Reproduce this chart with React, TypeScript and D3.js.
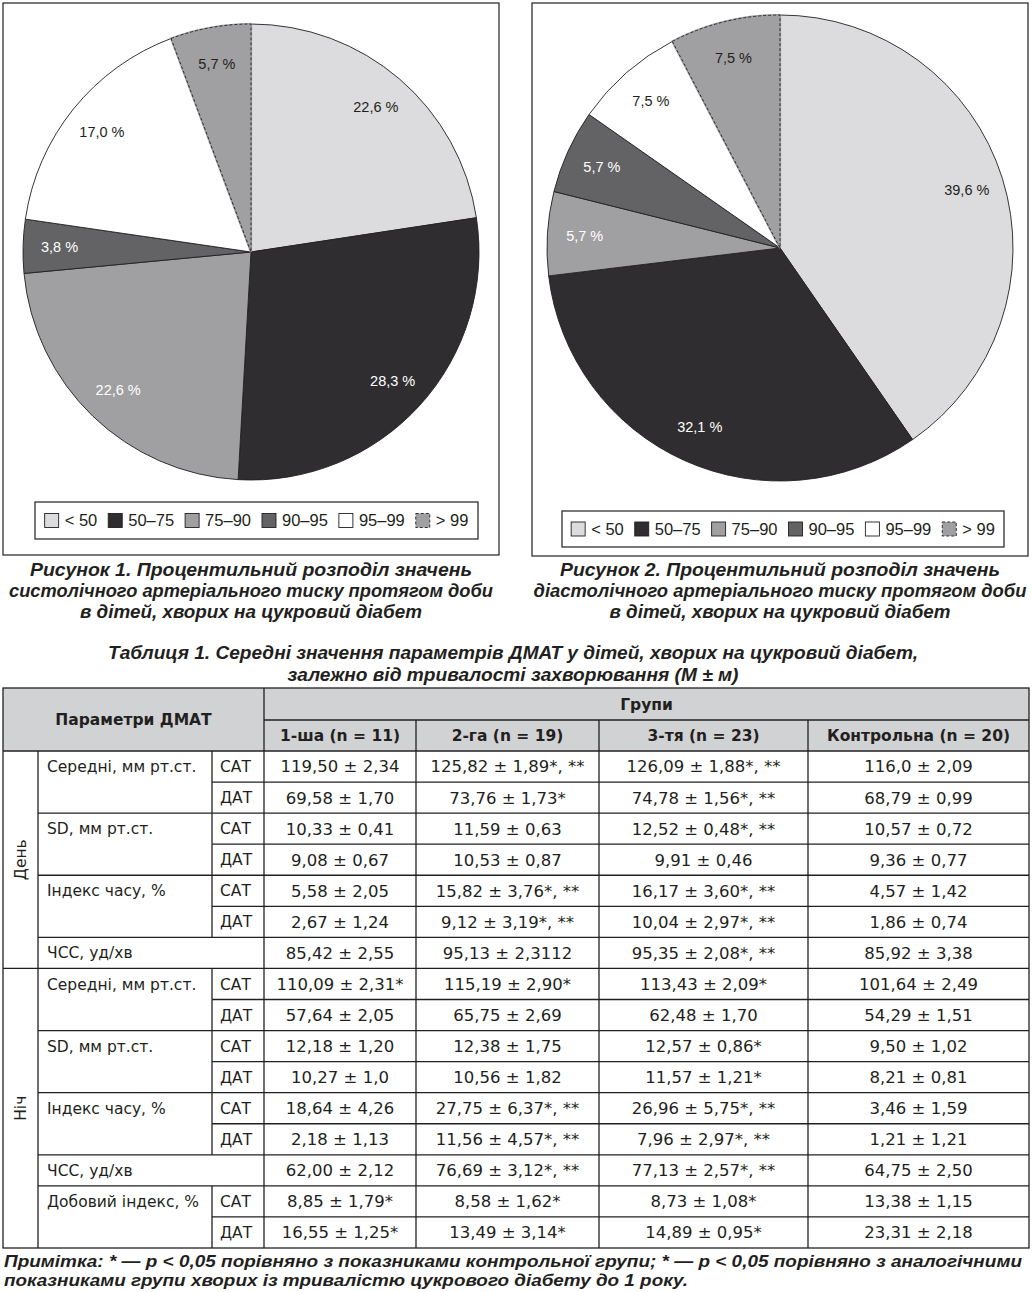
import React, { useMemo } from 'react';
import * as d3 from 'd3';

// ---------- DATA ----------
const categories = ['< 50', '50–75', '75–90', '90–95', '95–99', '> 99'];
const systolicValues = [22.6, 28.3, 22.6, 3.8, 17.0, 5.7];
const diastolicValues = [39.6, 32.1, 5.7, 5.7, 7.5, 7.5];

const caption1 = [
  'Рисунок 1. Процентильний розподіл значень',
  'систолічного артеріального тиску протягом доби',
  'в дітей, хворих на цукровий діабет',
];
const caption2 = [
  'Рисунок 2. Процентильний розподіл значень',
  'діастолічного артеріального тиску протягом доби',
  'в дітей, хворих на цукровий діабет',
];
const tableTitle = [
  'Таблиця 1. Середні значення параметрів ДМАТ у дітей, хворих на цукровий діабет,',
  'залежно від тривалості захворювання (М ± м)',
];
const noteLines = [
  'Примітка: * — p < 0,05 порівняно з показниками контрольної групи; * — p < 0,05 порівняно з аналогічними',
  'показниками групи хворих із тривалістю цукрового діабету до 1 року.',
];

const paramHeader = 'Параметри ДМАТ';
const groupsHeader = 'Групи';
const groupNames = ['1-ша (n = 11)', '2-га (n = 19)', '3-тя (n = 23)', 'Контрольна (n = 20)'];

const rowPeriod = ['День', 'День', 'День', 'День', 'День', 'День', 'День',
  'Ніч', 'Ніч', 'Ніч', 'Ніч', 'Ніч', 'Ніч', 'Ніч', 'Ніч', 'Ніч'];
const rowParam = ['Середні, мм рт.ст.', 'Середні, мм рт.ст.', 'SD, мм рт.ст.', 'SD, мм рт.ст.',
  'Індекс часу, %', 'Індекс часу, %', 'ЧСС, уд/хв',
  'Середні, мм рт.ст.', 'Середні, мм рт.ст.', 'SD, мм рт.ст.', 'SD, мм рт.ст.',
  'Індекс часу, %', 'Індекс часу, %', 'ЧСС, уд/хв', 'Добовий індекс, %', 'Добовий індекс, %'];
const rowBp = ['САТ', 'ДАТ', 'САТ', 'ДАТ', 'САТ', 'ДАТ', '',
  'САТ', 'ДАТ', 'САТ', 'ДАТ', 'САТ', 'ДАТ', '', 'САТ', 'ДАТ'];

const group1Values = ['119,50 ± 2,34', '69,58 ± 1,70', '10,33 ± 0,41', '9,08 ± 0,67', '5,58 ± 2,05',
  '2,67 ± 1,24', '85,42 ± 2,55', '110,09 ± 2,31*', '57,64 ± 2,05', '12,18 ± 1,20', '10,27 ± 1,0',
  '18,64 ± 4,26', '2,18 ± 1,13', '62,00 ± 2,12', '8,85 ± 1,79*', '16,55 ± 1,25*'];
const group2Values = ['125,82 ± 1,89*, **', '73,76 ± 1,73*', '11,59 ± 0,63', '10,53 ± 0,87',
  '15,82 ± 3,76*, **', '9,12 ± 3,19*, **', '95,13 ± 2,3112', '115,19 ± 2,90*', '65,75 ± 2,69',
  '12,38 ± 1,75', '10,56 ± 1,82', '27,75 ± 6,37*, **', '11,56 ± 4,57*, **', '76,69 ± 3,12*, **',
  '8,58 ± 1,62*', '13,49 ± 3,14*'];
const group3Values = ['126,09 ± 1,88*, **', '74,78 ± 1,56*, **', '12,52 ± 0,48*, **', '9,91 ± 0,46',
  '16,17 ± 3,60*, **', '10,04 ± 2,97*, **', '95,35 ± 2,08*, **', '113,43 ± 2,09*', '62,48 ± 1,70',
  '12,57 ± 0,86*', '11,57 ± 1,21*', '26,96 ± 5,75*, **', '7,96 ± 2,97*, **', '77,13 ± 2,57*, **',
  '8,73 ± 1,08*', '14,89 ± 0,95*'];
const controlValues = ['116,0 ± 2,09', '68,79 ± 0,99', '10,57 ± 0,72', '9,36 ± 0,77', '4,57 ± 1,42',
  '1,86 ± 0,74', '85,92 ± 3,38', '101,64 ± 2,49', '54,29 ± 1,51', '9,50 ± 1,02', '8,21 ± 0,81',
  '3,46 ± 1,59', '1,21 ± 1,21', '64,75 ± 2,50', '13,38 ± 1,15', '23,31 ± 2,18'];

// ---------- STYLE ----------
const sliceFills = ['#dcdcde', '#302d31', '#a0a0a3', '#636365', '#ffffff', '#a0a0a3'];
const labelColors = ['#231f20', '#ffffff', '#ffffff', '#ffffff', '#231f20', '#231f20'];
const dashedIndex = 5;
const INK = '#231f20';
const HEADER_FILL = '#d1d2d4';
const TABLE_FONT = 'DejaVu Sans, sans-serif';
const CAPTION_FONT = 'Liberation Sans Narrow, Liberation Sans, Arial, sans-serif';

const measureCanvas = typeof document !== 'undefined' ? document.createElement('canvas') : null;
function textWidth(text: string, font: string) {
  if (!measureCanvas) return text.length * 8;
  const ctx = measureCanvas.getContext('2d')!;
  ctx.font = font;
  return ctx.measureText(text).width;
}

const fmtPct = (v: number) => v.toFixed(1).replace('.', ',') + ' %';

type PieProps = {
  values: number[];
  frame: { x: number; y: number; w: number; h: number };
  cx: number; cy: number; r: number;
  legend: { x: number; y: number; w: number; h: number };
};

function PiePanel({ values, frame, cx, cy, r, legend }: PieProps) {
  const arcs = useMemo(() => d3.pie<number>().sort(null).value(v => v)(values), [values]);
  const arc = d3.arc<d3.PieArcDatum<number>>().innerRadius(0).outerRadius(r);
  const labelArc = d3.arc<d3.PieArcDatum<number>>().innerRadius(r * 0.84).outerRadius(r * 0.84);

  const legendFont = '16.5px "Liberation Sans"';
  const sw = 14, swGap = 6, itemGap = 11;
  const widths = categories.map(c => textWidth(c, legendFont));
  const itemW = widths.map(w => sw + swGap + w);
  const total = d3.sum(itemW) + itemGap * (categories.length - 1);
  let cursor = legend.x + (legend.w - total) / 2;
  const itemX = itemW.map(w => { const x = cursor; cursor += w + itemGap; return x; });
  const ly = legend.y + legend.h / 2;

  return (
    <g>
      <rect x={frame.x} y={frame.y} width={frame.w} height={frame.h} fill="#fff" stroke={INK} strokeWidth={1.2} />
      <g transform={`translate(${cx},${cy})`}>
        {arcs.map((a, i) => i === dashedIndex ? null : (
          <path key={i} d={arc(a) || ''} fill={sliceFills[i]} stroke={INK} strokeWidth={0.9} />
        ))}
        {arcs.map((a, i) => i !== dashedIndex ? null : (
          <g key={i}>
            <path d={arc(a) || ''} fill={sliceFills[i]} stroke={sliceFills[i]} strokeWidth={2.2} />
            <path d={arc(a) || ''} fill="none" stroke={INK} strokeWidth={0.9} strokeDasharray="3,2" />
          </g>
        ))}
        {arcs.map((a, i) => {
          const [lx, lyy] = labelArc.centroid(a);
          return (
            <text key={'l' + i} x={lx} y={lyy} dy="0.35em" textAnchor="middle"
              fontFamily="Liberation Sans, Arial, sans-serif" fontSize={14.5} fill={labelColors[i]}>
              {fmtPct(values[i])}
            </text>
          );
        })}
      </g>
      <rect x={legend.x} y={legend.y} width={legend.w} height={legend.h} fill="#fff" stroke={INK} strokeWidth={1.2} />
      {categories.map((c, i) => (
        <g key={c}>
          <rect x={itemX[i]} y={ly - sw / 2} width={sw} height={sw} fill={sliceFills[i]}
            stroke={INK} strokeWidth={0.9} strokeDasharray={i === dashedIndex ? '3,2' : undefined} />
          <text x={itemX[i] + sw + swGap} y={ly} dy="0.36em" fontFamily="Liberation Sans, Arial, sans-serif"
            fontSize={16.5} fill={INK}>{c}</text>
        </g>
      ))}
    </g>
  );
}

function CaptionBlock({ lines, cx, ys, lens, size, family, anchor = 'middle' }:
  { lines: string[]; cx: number; ys: number[]; lens: number[]; size: number; family: string; anchor?: string }) {
  return (
    <g>
      {lines.map((t, i) => (
        <text key={i} x={cx} y={ys[i]} textAnchor={anchor as any} fontFamily={family} fontSize={size}
          fontWeight="bold" fontStyle="italic" fill={INK} textLength={lens[i]} lengthAdjust="spacingAndGlyphs">
          {t}
        </text>
      ))}
    </g>
  );
}

function DataTable() {
  const colX = [3, 38, 212, 264, 416, 599, 808, 1029];
  const top = 688, h1 = 720, h2 = 751, bottom = 1248;
  const n = rowParam.length;
  const y = d3.scaleLinear().domain([0, n]).range([h2, bottom]);
  const cols = [group1Values, group2Values, group3Values, controlValues];
  const lw = 1.3;
  const fs = 15.5;
  const vfs = 16.5;

  function runs(keyFn: (i: number) => string) {
    const out: { start: number; end: number }[] = [];
    let s = 0;
    for (let i = 1; i <= n; i++) {
      if (i === n || keyFn(i) !== keyFn(s)) { out.push({ start: s, end: i }); s = i; }
    }
    return out;
  }
  const periodRuns = runs(i => rowPeriod[i]);
  const paramRuns = runs(i => rowPeriod[i] + '|' + rowParam[i]);

  const lines: JSX.Element[] = [];
  for (let i = 1; i < n; i++) {
    let x0 = colX[2];
    if (rowPeriod[i] !== rowPeriod[i - 1]) x0 = colX[0];
    else if (rowParam[i] !== rowParam[i - 1]) x0 = colX[1];
    lines.push(<line key={'h' + i} x1={x0} x2={colX[7]} y1={y(i)} y2={y(i)} stroke={INK} strokeWidth={lw} />);
  }
  for (let i = 0; i < n; i++) {
    if (rowBp[i]) lines.push(<line key={'vb' + i} x1={colX[2]} x2={colX[2]} y1={y(i)} y2={y(i + 1)} stroke={INK} strokeWidth={lw} />);
  }

  return (
    <g fontFamily={TABLE_FONT} fill={INK}>
      <rect x={colX[0]} y={top} width={colX[7] - colX[0]} height={h2 - top} fill={HEADER_FILL} />
      <line x1={colX[3]} x2={colX[7]} y1={h1} y2={h1} stroke={INK} strokeWidth={lw} />
      <line x1={colX[0]} x2={colX[7]} y1={h2} y2={h2} stroke={INK} strokeWidth={lw} />
      <line x1={colX[3]} x2={colX[3]} y1={top} y2={bottom} stroke={INK} strokeWidth={lw} />
      {[4, 5, 6].map(k => (
        <line key={'v' + k} x1={colX[k]} x2={colX[k]} y1={h1} y2={bottom} stroke={INK} strokeWidth={lw} />
      ))}
      <line x1={colX[1]} x2={colX[1]} y1={h2} y2={bottom} stroke={INK} strokeWidth={lw} />
      {lines}
      <rect x={colX[0]} y={top} width={colX[7] - colX[0]} height={bottom - top} fill="none" stroke={INK} strokeWidth={lw} />

      <text x={(colX[0] + colX[3]) / 2} y={(top + h2) / 2} dy="0.36em" textAnchor="middle" fontWeight="bold" fontSize={fs}>{paramHeader}</text>
      <text x={(colX[3] + colX[7]) / 2} y={(top + h1) / 2} dy="0.36em" textAnchor="middle" fontWeight="bold" fontSize={fs}>{groupsHeader}</text>
      {groupNames.map((g, k) => (
        <text key={g} x={(colX[3 + k] + colX[4 + k]) / 2} y={(h1 + h2) / 2} dy="0.36em" textAnchor="middle" fontWeight="bold" fontSize={fs}>{g}</text>
      ))}

      {periodRuns.map(r => {
        const cy = (y(r.start) + y(r.end)) / 2;
        const cx = (colX[0] + colX[1]) / 2;
        return (
          <text key={'p' + r.start} transform={`translate(${cx},${cy}) rotate(-90)`} dy="0.36em" textAnchor="middle" fontSize={fs}>{rowPeriod[r.start]}</text>
        );
      })}
      {paramRuns.map(r => (
        <text key={'pr' + r.start} x={colX[1] + 9} y={(y(r.start) + y(r.start + 1)) / 2} dy="0.36em" fontSize={fs}>{rowParam[r.start]}</text>
      ))}
      {rowBp.map((b, i) => b ? (
        <text key={'b' + i} x={colX[2] + 8} y={(y(i) + y(i + 1)) / 2} dy="0.36em" fontSize={fs}>{b}</text>
      ) : null)}
      {cols.map((vals, k) => vals.map((v, i) => (
        <text key={'c' + k + '_' + i} x={(colX[3 + k] + colX[4 + k]) / 2} y={(y(i) + y(i + 1)) / 2} dy="0.36em" textAnchor="middle" fontSize={vfs}>{v}</text>
      )))}
    </g>
  );
}

export default function App() {
  return (
    <svg width={1032} height={1292} style={{ position: 'absolute', left: 0, top: 0, background: '#fff' }}>
      <rect x={0} y={0} width={1032} height={1292} fill="#fff" />
      <PiePanel values={systolicValues} frame={{ x: 3, y: 3, w: 496, h: 552 }} cx={251} cy={252} r={228}
        legend={{ x: 35, y: 502, w: 443, h: 37 }} />
      <PiePanel values={diastolicValues} frame={{ x: 532, y: 3, w: 496, h: 553 }} cx={780} cy={248} r={233}
        legend={{ x: 562, y: 511, w: 442, h: 36 }} />
      <CaptionBlock lines={caption1} cx={251} ys={[576, 597, 618]} lens={[442, 484, 342]} size={18} family={CAPTION_FONT} />
      <CaptionBlock lines={caption2} cx={780} ys={[576, 597, 618]} lens={[440, 493, 341]} size={18} family={CAPTION_FONT} />
      <CaptionBlock lines={tableTitle} cx={513} ys={[659, 681]} lens={[810, 451]} size={18} family={CAPTION_FONT} />
      <CaptionBlock lines={noteLines} cx={4} ys={[1267, 1286]} lens={[1018, 684]} size={16.5} family="Liberation Sans, Arial, sans-serif" anchor="start" />
      <DataTable />
    </svg>
  );
}
